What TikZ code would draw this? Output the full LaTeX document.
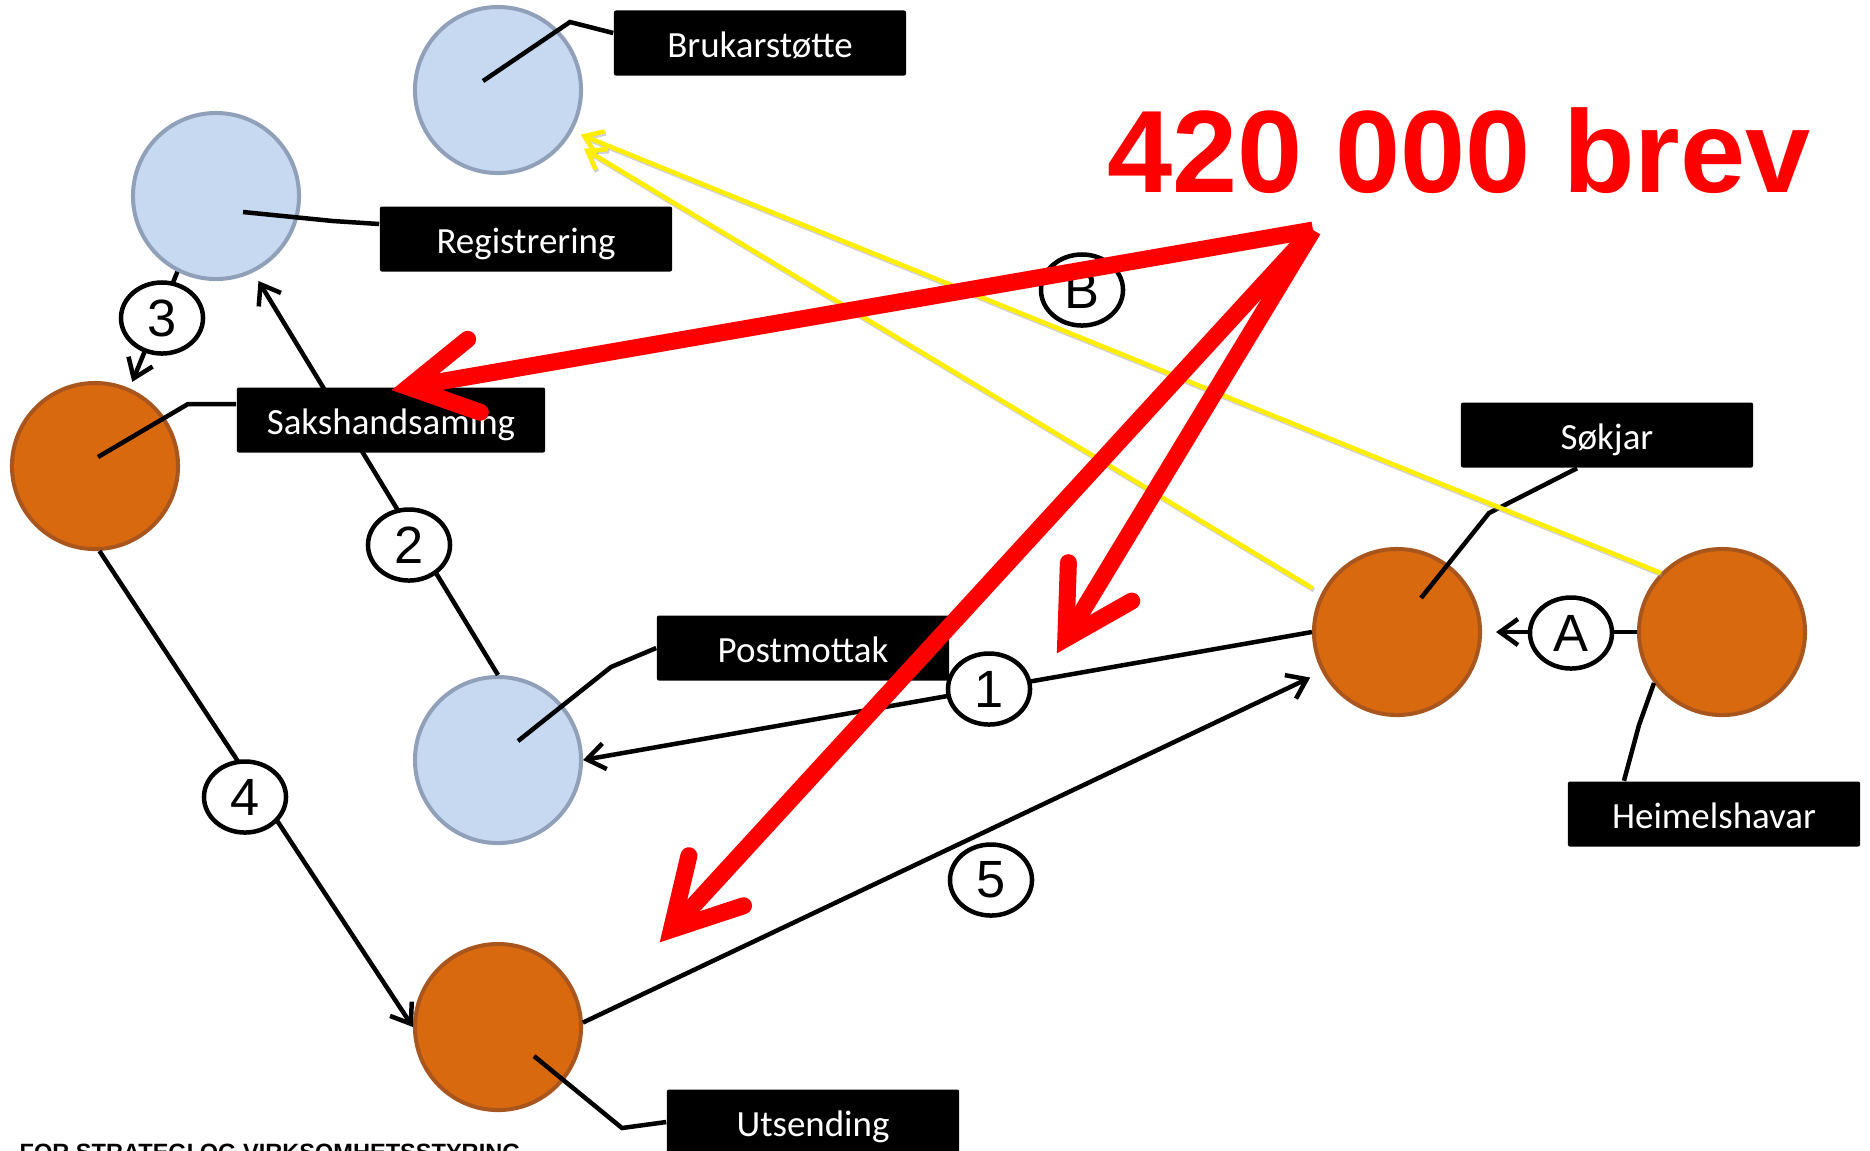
\documentclass[tikz,border=0pt]{standalone}
\usepackage{fontspec}
\setmainfont{Carlito}
\newfontfamily\arialfont{Liberation Sans}
\usetikzlibrary{arrows.meta,calc,shapes.geometric}
\definecolor{bluefill}{RGB}{198,217,241}
\definecolor{blueedge}{RGB}{143,160,184}
\definecolor{orfill}{RGB}{217,105,14}
\definecolor{oredge}{RGB}{168,86,30}
\definecolor{ylw}{RGB}{255,238,0}
\definecolor{shd}{RGB}{150,150,150}
\newcommand{\bigredarrow}[2]{%
  \draw[red,line width=0.17cm] (#1) -- ($(#2)!0.17cm!(#1)$);
  \draw[red,line width=0.17cm,line cap=round,line join=miter]
    ($(#2)!0.91cm!24:(#1)$) -- ($(#2)!0.17cm!(#1)$) -- ($(#2)!0.91cm!-24:(#1)$);
}
\begin{document}
\begin{tikzpicture}[x=0.01cm,y=-0.01cm,
  bluec/.style={circle,fill=bluefill,draw=blueedge,line width=0.04cm,minimum size=1.66cm,inner sep=0},
  orc/.style={circle,fill=orfill,draw=oredge,line width=0.04cm,minimum size=1.66cm,inner sep=0},
  lbl/.style={fill=black,text=white,rounded corners=0.02cm,minimum width=2.92cm,minimum height=0.65cm,inner sep=0,text height=10pt,text depth=2pt,font=\fontsize{10.5}{12}\selectfont},
  num/.style={ellipse,draw=black,fill=white,line width=0.045cm,minimum width=0.82cm,minimum height=0.71cm,inner sep=0,font=\arialfont\fontsize{14.9}{16}\selectfont},
  callout/.style={draw=black,line width=0.045cm},
  flow/.style={draw=black,line width=0.045cm,-{Straight Barb[length=0.18cm,width=0.26cm]}},
  ylwline/.style={draw=ylw,line width=0.045cm,-{Straight Barb[length=0.17cm,width=0.24cm]}},
  ylwshadow/.style={draw=shd,opacity=0.45,line width=0.045cm,-{Straight Barb[length=0.17cm,width=0.24cm]},transform canvas={shift={(0.012cm,-0.02cm)}}},
]
\useasboundingbox (0,0) rectangle (1870,1150);
\clip (0,0) rectangle (1870,1150);

% circles
\node[bluec] (bru) at (498,90) {};
\node[bluec] (reg) at (216,196) {};
\node[orc] (sak) at (95,466) {};
\node[bluec] (post) at (498,760) {};
\node[orc] (uts) at (498,1027) {};
\node[orc] (sok) at (1397,632) {};
\node[orc] (heim) at (1722,632) {};

% black flow edges
\draw[flow,shorten >=0.1cm] (post.north) -- (reg.-64);
\draw[flow,shorten >=0.07cm] (reg.-117) -- (sak.66);
\draw[flow] (sak.-87) -- (uts.180);
\draw[flow] (sok.west) -- (post.east);
\draw[flow,shorten >=0.13cm] (uts.3) -- (sok.208);
\draw[flow,shorten >=0.14cm] (heim.west) -- (sok.east);

% labels
\node[lbl] (lbru) at (760,43) {Brukarstøtte};
\node[lbl] (lreg) at (526,239) {Registrering};
\node[lbl,minimum width=3.08cm] (lsak) at (391,420) {Sakshandsaming};
\node[lbl] (lpost) at (803,648) {Postmottak};
\node[lbl] (luts) at (813,1122) {Utsending};
\node[lbl] (lsok) at (1607,435) {Søkjar};
\node[lbl] (lheim) at (1714,814) {Heimelshavar};

% callout lines
\coordinate (bruE) at (570,22);  \coordinate (bruI) at (483,81);
\coordinate (regE) at (333,221); \coordinate (regI) at (243,212);
\coordinate (sakE) at (188,404); \coordinate (sakI) at (98,457);
\coordinate (postE) at (611,667); \coordinate (postI) at (518,741);
\coordinate (utsE) at (622,1128); \coordinate (utsI) at (534,1056);
\coordinate (sokE) at (1489,513); \coordinate (sokI) at (1421,598);
\coordinate (heimE) at (1639,725); \coordinate (heimI) at (1654,683);
\draw[callout] ([yshift=0.1cm]lbru.west) -- (bruE) -- (bruI);
\draw[callout] ([yshift=0.15cm]lreg.west) -- (regE) -- (regI);
\draw[callout] ([yshift=0.16cm]lsak.west) -- (sakE) -- (sakI);
\draw[callout] (lpost.west) -- (postE) -- (postI);
\draw[callout] (luts.west) -- (utsE) -- (utsI);
\draw[callout] ([xshift=-0.3cm]lsok.south) -- (sokE) -- (sokI);
\draw[callout] ([xshift=-0.9cm]lheim.north) -- (heimE) -- (heimI);

% numbered circles
\node[num] (n3) at (162,318) {3};
\node[num] (n2) at (409,545) {2};
\node[num] (n4) at (245,797) {4};
\node[num] (n1) at (989,689) {1};
\node[num] (n5) at (991,880) {5};
\node[num] (nA) at (1571,633) {A};
\node[num] (nB) at (1082,290) {B};

% yellow arrows
\draw[ylwshadow,shorten <=0.1cm,shorten >=0.19cm] (sok.153) -- (bru.-35);
\draw[ylwshadow,shorten >=0.09cm] (heim.136) -- (bru.-29);
\draw[ylwline,shorten <=0.1cm,shorten >=0.19cm] (sok.153) -- (bru.-35);
\draw[ylwline,shorten >=0.09cm] (heim.136) -- (bru.-29);

% title
\node[anchor=base west,inner sep=0,text=red,font=\arialfont\bfseries\fontsize{33.3}{40}\selectfont] (title) at (1107,192) {420 000 brev};

% footer (cut off by the lower edge, as in the original)
\node[anchor=base west,inner sep=0,font=\arialfont\bfseries\fontsize{6.7}{8}\selectfont] (foot) at (19,1160) {FOR STRATEGI OG VIRKSOMHETSSTYRING};

% red arrows
\coordinate (src) at (1313,230);
\coordinate (t1) at (392,390);
\coordinate (t2) at (1057,653);
\coordinate (t3) at (660,942);
\bigredarrow{src}{t1}
\bigredarrow{src}{t2}
\bigredarrow{src}{t3}
\end{tikzpicture}
\end{document}
